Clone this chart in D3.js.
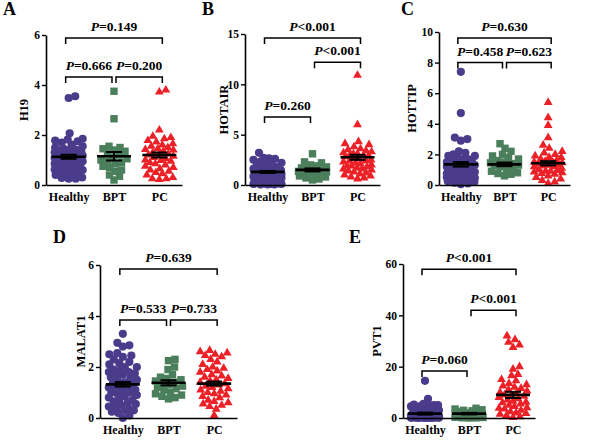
<!DOCTYPE html>
<html><head><meta charset="utf-8">
<script src="https://cdn.jsdelivr.net/npm/d3@7"></script>
<style>body{margin:0;background:#fff}svg{display:block}
text{font-family:"Liberation Serif","Times New Roman",Times,"DejaVu Serif",serif;font-weight:bold}</style>
</head><body>
<svg id="chart" width="600" height="446"></svg>
<script>
// ---------- DATA ----------
const groups = ["Healthy", "BPT", "PC"];
const panelLetters = ["A", "B", "C", "D", "E"];
const genes = ["H19", "HOTAIR", "HOTTIP", "MALAT1", "PVT1"];
const yMaxes = [6, 15, 10, 6, 60];
const yTicks = [[0, 2, 4, 6], [0, 5, 10, 15], [0, 2, 4, 6, 8, 10], [0, 2, 4, 6], [0, 20, 40, 60]];

const h19Healthy = [3.55, 3.48, 2.07, 1.85, 1.82, 1.78, 1.75, 1.7, 1.62, 1.55, 1.5, 1.45, 1.42, 1.4, 1.38, 1.35, 1.3, 1.28, 1.25, 1.22, 1.2, 1.18, 1.15, 1.12, 1.1, 1.08, 1.05, 1.02, 1.0, 0.98, 0.95, 0.92, 0.9, 0.88, 0.85, 0.82, 0.8, 0.75, 0.72, 0.7, 0.65, 0.62, 0.6, 0.55, 0.5, 0.48, 0.45, 0.4, 0.3, 0.28, 0.25, 0.25];
const h19BPT = [3.75, 2.65, 1.55, 1.5, 1.45, 1.4, 1.35, 1.25, 1.2, 1.1, 1.05, 1.0, 0.95, 0.9, 0.85, 0.75, 0.7, 0.6, 0.55, 0.4, 0.35, 0.2];
const h19PC = [3.8, 3.72, 2.2, 1.95, 1.9, 1.85, 1.78, 1.72, 1.65, 1.6, 1.55, 1.5, 1.45, 1.42, 1.4, 1.35, 1.3, 1.25, 1.22, 1.2, 1.15, 1.1, 1.05, 1.0, 0.98, 0.95, 0.9, 0.85, 0.8, 0.75, 0.7, 0.65, 0.6, 0.55, 0.5, 0.45, 0.4, 0.3, 0.25, 0.25, 0.22];
const h19Mean = [1.13, 1.15, 1.2];
const h19Sem = [0.08, 0.17, 0.1];

const hotairHealthy = [3.2, 2.7, 2.65, 2.6, 2.5, 2.3, 2.2, 2.0, 1.9, 1.8, 1.7, 1.6, 1.5, 1.45, 1.4, 1.35, 1.3, 1.25, 1.2, 1.15, 1.1, 1.05, 1.0, 0.95, 0.9, 0.85, 0.8, 0.75, 0.7, 0.6, 0.55, 0.5, 0.45, 0.4, 0.35, 0.3, 0.3, 0.25, 0.2, 0.2, 0.15, 0.1, 0.1, 0.1, 0.05, 0.05, 0.05, 1.6, 1.4, 1.8, 2.2, 0.5, 0.2, 0.15];
const hotairBPT = [3.1, 2.3, 2.2, 2.0, 1.9, 1.8, 1.7, 1.6, 1.5, 1.45, 1.4, 1.35, 1.3, 1.25, 1.2, 1.1, 1.0, 0.9, 0.8, 0.7, 0.6, 0.5];
const hotairPC = [10.9, 6.0, 4.3, 4.0, 3.8, 3.6, 3.5, 3.3, 3.2, 3.1, 3.0, 2.9, 2.8, 2.7, 2.6, 2.5, 2.4, 2.3, 2.2, 2.1, 2.0, 1.9, 1.8, 1.7, 1.6, 1.5, 1.4, 1.3, 1.2, 1.1, 1.0, 0.9, 0.8, 0.7, 0.6, 2.9, 3.1, 2.4, 1.9, 1.6, 4.1, 3.4];
const hotairMean = [1.3, 1.5, 2.75];
const hotairSem = [0.1, 0.15, 0.25];

const hottipHealthy = [7.4, 4.7, 3.1, 3.0, 2.9, 2.2, 2.1, 2.0, 1.9, 1.8, 1.7, 1.6, 1.55, 1.5, 1.45, 1.4, 1.35, 1.3, 1.25, 1.2, 1.15, 1.1, 1.05, 1.0, 0.95, 0.9, 0.85, 0.8, 0.75, 0.7, 0.65, 0.6, 0.55, 0.5, 0.45, 0.4, 0.35, 0.3, 0.25, 0.2, 0.15, 0.1, 0.05, 1.9, 1.7, 1.5, 1.3, 1.1, 0.9, 0.7, 0.5, 0.3];
const hottipBPT = [2.7, 2.4, 2.2, 2.0, 1.9, 1.8, 1.7, 1.6, 1.5, 1.45, 1.4, 1.35, 1.3, 1.25, 1.2, 1.1, 1.0, 0.9, 0.8, 0.75, 0.7, 0.6];
const hottipPC = [5.4, 4.4, 3.9, 3.1, 2.6, 2.4, 2.2, 2.1, 2.0, 1.9, 1.8, 1.7, 1.6, 1.55, 1.5, 1.45, 1.4, 1.35, 1.3, 1.25, 1.2, 1.1, 1.0, 0.95, 0.9, 0.85, 0.8, 0.75, 0.7, 0.6, 0.5, 0.4, 0.3, 0.2, 0.1, 1.8, 1.5, 1.2, 0.9];
const hottipMean = [1.35, 1.35, 1.42];
const hottipSem = [0.15, 0.12, 0.14];

const malat1Healthy = [3.3, 2.95, 2.85, 2.8, 2.55, 2.5, 2.45, 2.4, 2.3, 2.2, 2.15, 2.1, 2.0, 1.9, 1.85, 1.8, 1.75, 1.7, 1.6, 1.55, 1.5, 1.45, 1.4, 1.35, 1.3, 1.25, 1.2, 1.15, 1.1, 1.05, 1.0, 0.95, 0.9, 0.85, 0.8, 0.7, 0.65, 0.6, 0.55, 0.5, 0.45, 0.4, 0.35, 0.3, 0.25, 0.2, 0.1, 0.0, 2.0, 1.7, 1.2, 0.7, 0.3, 1.8, 1.0];
const malat1BPT = [2.3, 2.25, 2.0, 1.9, 1.7, 1.6, 1.55, 1.5, 1.45, 1.4, 1.35, 1.3, 1.25, 1.2, 1.15, 1.1, 1.0, 0.95, 0.9, 0.85, 0.8, 0.75];
const malat1PC = [2.65, 2.6, 2.55, 2.5, 2.45, 2.3, 2.2, 2.1, 2.0, 1.95, 1.9, 1.85, 1.8, 1.7, 1.6, 1.55, 1.5, 1.45, 1.4, 1.35, 1.3, 1.25, 1.2, 1.15, 1.1, 1.0, 0.95, 0.9, 0.85, 0.8, 0.7, 0.65, 0.6, 0.55, 0.5, 0.45, 0.35, 0.1, 2.4, 1.65, 1.05];
const malat1Mean = [1.32, 1.38, 1.35];
const malat1Sem = [0.09, 0.1, 0.08];

const pvt1Healthy = [14.5, 7.5, 5.5, 5.2, 5.0, 4.8, 4.5, 4.2, 4.0, 3.5, 3.0, 2.5, 2.0, 1.8, 1.5, 1.2, 1.0, 0.8, 0.6, 0.5, 0.4, 0.3, 0.2, 0.1, 0.05, 0.0, 0.0, 2.2, 1.6, 1.0, 0.6, 0.3, 0.2, 0.1, 0.5, 0.8, 1.2, 0.4, 0.3, 0.2, 0.1, 0.05, 0.05, 0.0, 4.6, 5.0, 1.4, 0.9, 0.7];
const pvt1BPT = [3.8, 3.5, 3.2, 3.0, 2.8, 2.5, 2.2, 2.0, 1.8, 1.6, 1.4, 1.2, 1.0, 0.8, 0.6, 0.5, 0.4, 0.3, 0.2, 0.1, 0.05, 0.0];
const pvt1PC = [32, 30.5, 29.5, 28.5, 27.5, 20, 19, 17, 16.5, 15, 14.5, 13.5, 13, 12, 11.5, 11, 10.5, 10, 9.5, 9, 8.5, 8, 7.5, 7, 6.5, 6, 5.5, 5, 4.5, 4, 3.5, 3, 2.5, 2, 1.5, 1, 0.5, 0.2, 12.5, 8.8, 6.2, 3.8, 1.8];
const pvt1Mean = [1.7, 1.7, 9.0];
const pvt1Sem = [0.4, 0.3, 1.2];

// comparisons: [groupA, groupB, level (data units), operator, p text]
const h19Comparisons = [[0, 2, 5.88, "=", "0.149"], [0, 1, 4.32, "=", "0.666"], [1, 2, 4.32, "=", "0.200"]];
const hotairComparisons = [[0, 2, 14.6, "<", "0.001"], [1, 2, 12.2, "<", "0.001"], [0, 1, 6.75, "=", "0.260"]];
const hottipComparisons = [[0, 2, 9.6, "=", "0.630"], [0, 1, 8.0, "=", "0.458"], [1, 2, 8.0, "=", "0.623"]];
const malat1Comparisons = [[0, 2, 5.84, "=", "0.639"], [0, 1, 3.84, "=", "0.533"], [1, 2, 3.84, "=", "0.733"]];
const pvt1Comparisons = [[0, 2, 58, "<", "0.001"], [1, 2, 42, "<", "0.001"], [0, 1, 18.3, "=", "0.060"]];

// ---------- LAYOUT ----------
const panelData = [
  { values: [h19Healthy, h19BPT, h19PC], mean: h19Mean, sem: h19Sem, comps: h19Comparisons },
  { values: [hotairHealthy, hotairBPT, hotairPC], mean: hotairMean, sem: hotairSem, comps: hotairComparisons },
  { values: [hottipHealthy, hottipBPT, hottipPC], mean: hottipMean, sem: hottipSem, comps: hottipComparisons },
  { values: [malat1Healthy, malat1BPT, malat1PC], mean: malat1Mean, sem: malat1Sem, comps: malat1Comparisons },
  { values: [pvt1Healthy, pvt1BPT, pvt1PC], mean: pvt1Mean, sem: pvt1Sem, comps: pvt1Comparisons }
];
const boxes = [
  { l: 46, r: 182, t: 35, b: 185, titleX: 25, letterX: 3, letterY: 15 },
  { l: 245, r: 380, t: 34, b: 185, titleX: 225, letterX: 202, letterY: 15 },
  { l: 439, r: 570, t: 32, b: 185, titleX: 413, letterX: 401, letterY: 15 },
  { l: 100, r: 237, t: 265, b: 418, titleX: 82, letterX: 53, letterY: 243 },
  { l: 403, r: 535, t: 264, b: 418, titleX: 378, letterX: 349, letterY: 243 }
];
const colors = ["#4a3b8b", "#4b7f5c", "#ec2027"];

const svg = d3.select("#chart");

function swarm(vals, y, r, maxHalf) {
  const pts = vals.map(v => ({ v, py: y(v) })).sort((a, b) => a.v - b.v);
  const placed = [];
  for (const p of pts) {
    let best = 0, bestScore = -1;
    const cands = [0];
    for (let o = 0.5; o <= maxHalf; o += 0.5) { cands.push(o, -o); }
    for (const off of cands) {
      let minD = Infinity;
      for (const q of placed) {
        const d = Math.hypot(q.dx - off, q.py - p.py);
        if (d < minD) minD = d;
      }
      if (minD >= 2 * r * 0.8) { best = off; bestScore = Infinity; break; }
      if (minD > bestScore) { bestScore = minD; best = off; }
    }
    p.dx = best;
    placed.push(p);
  }
  return pts;
}

panelData.forEach((pd, i) => {
  const bx = boxes[i];
  const g = svg.append("g");
  const y = d3.scaleLinear().domain([0, yMaxes[i]]).range([bx.b, bx.t]);
  const x = d3.scalePoint().domain(groups).range([bx.l, bx.r]).padding(0.5);

  // points
  pd.values.forEach((vals, gi) => {
    const cx = x(groups[gi]);
    const pts = swarm(vals, y, 4.1, 14);
    const sel = g.append("g").attr("fill", colors[gi]);
    if (gi === 0) {
      sel.selectAll("circle").data(pts).join("circle")
        .attr("cx", d => cx + d.dx).attr("cy", d => d.py).attr("r", 4.1);
    } else if (gi === 1) {
      sel.selectAll("rect").data(pts).join("rect")
        .attr("x", d => cx + d.dx - 3.7).attr("y", d => d.py - 3.7)
        .attr("width", 7.4).attr("height", 7.4);
    } else {
      const tri = d3.symbol().type(d3.symbolTriangle).size(34);
      sel.selectAll("path").data(pts).join("path")
        .attr("d", tri).attr("transform", d => `translate(${cx + d.dx},${d.py})`);
    }
  });

  // mean + SEM
  groups.forEach((gname, gi) => {
    const cx = x(gname);
    const m = pd.mean[gi], s = pd.sem[gi];
    const eg = g.append("g").attr("stroke", "#000");
    eg.append("line").attr("x1", cx - 17).attr("x2", cx + 17).attr("y1", y(m)).attr("y2", y(m)).attr("stroke-width", 2.6);
    eg.append("line").attr("x1", cx).attr("x2", cx).attr("y1", y(m - s)).attr("y2", y(m + s)).attr("stroke-width", 2);
    [m - s, m + s].forEach(v => {
      eg.append("line").attr("x1", cx - 8).attr("x2", cx + 8).attr("y1", y(v)).attr("y2", y(v)).attr("stroke-width", 2);
    });
  });

  // axes
  const ya = d3.axisLeft(y).tickValues(yTicks[i]).tickFormat(d3.format("d")).tickSize(4).tickSizeOuter(0).tickPadding(2);
  const yg = g.append("g").attr("transform", `translate(${bx.l},0)`).call(ya);
  const xa = d3.axisBottom(x).tickSize(0).tickSizeOuter(0).tickPadding(7);
  const xg = g.append("g").attr("transform", `translate(0,${bx.b})`).call(xa);
  [yg, xg].forEach(a => {
    a.attr("font-family", null).attr("font-size", null);
    a.select(".domain").attr("stroke", "#000").attr("stroke-width", 1.6);
    a.selectAll(".tick line").attr("stroke", "#000").attr("stroke-width", 1.4);
    a.selectAll("text").style("font-size", "11.5px").attr("fill", "#000");
  });
  xg.selectAll("text").style("font-size", "12px");

  // y title
  g.append("text").attr("transform", `translate(${bx.titleX},${(bx.t + bx.b) / 2}) rotate(-90)`)
    .attr("text-anchor", "middle").attr("dominant-baseline", "middle")
    .style("font-size", "12.5px").text(genes[i]);

  // panel letter
  g.append("text").attr("x", bx.letterX).attr("y", bx.letterY)
    .style("font-size", "18px").text(panelLetters[i]);

  // comparison brackets
  pd.comps.forEach(([a, b, lvl, op, p]) => {
    const adjacent = Math.abs(a - b) === 1;
    let x1 = x(groups[a]) - 3, x2 = x(groups[b]) + 3;
    if (adjacent && a === 0) x2 = x(groups[b]) - 2;
    if (adjacent && a === 1) x1 = x(groups[a]) + 2;
    const yy = y(lvl);
    g.append("path").attr("d", `M${x1},${yy + 6}V${yy}H${x2}V${yy + 6}`)
      .attr("fill", "none").attr("stroke", "#000").attr("stroke-width", 1.5);
    const t = g.append("text").attr("x", (x1 + x2) / 2).attr("y", yy - 7)
      .attr("text-anchor", "middle").style("font-size", "13.5px");
    t.append("tspan").attr("font-style", "italic").text("P");
    t.append("tspan").text(op + p);
  });
});
</script>
</body></html>
